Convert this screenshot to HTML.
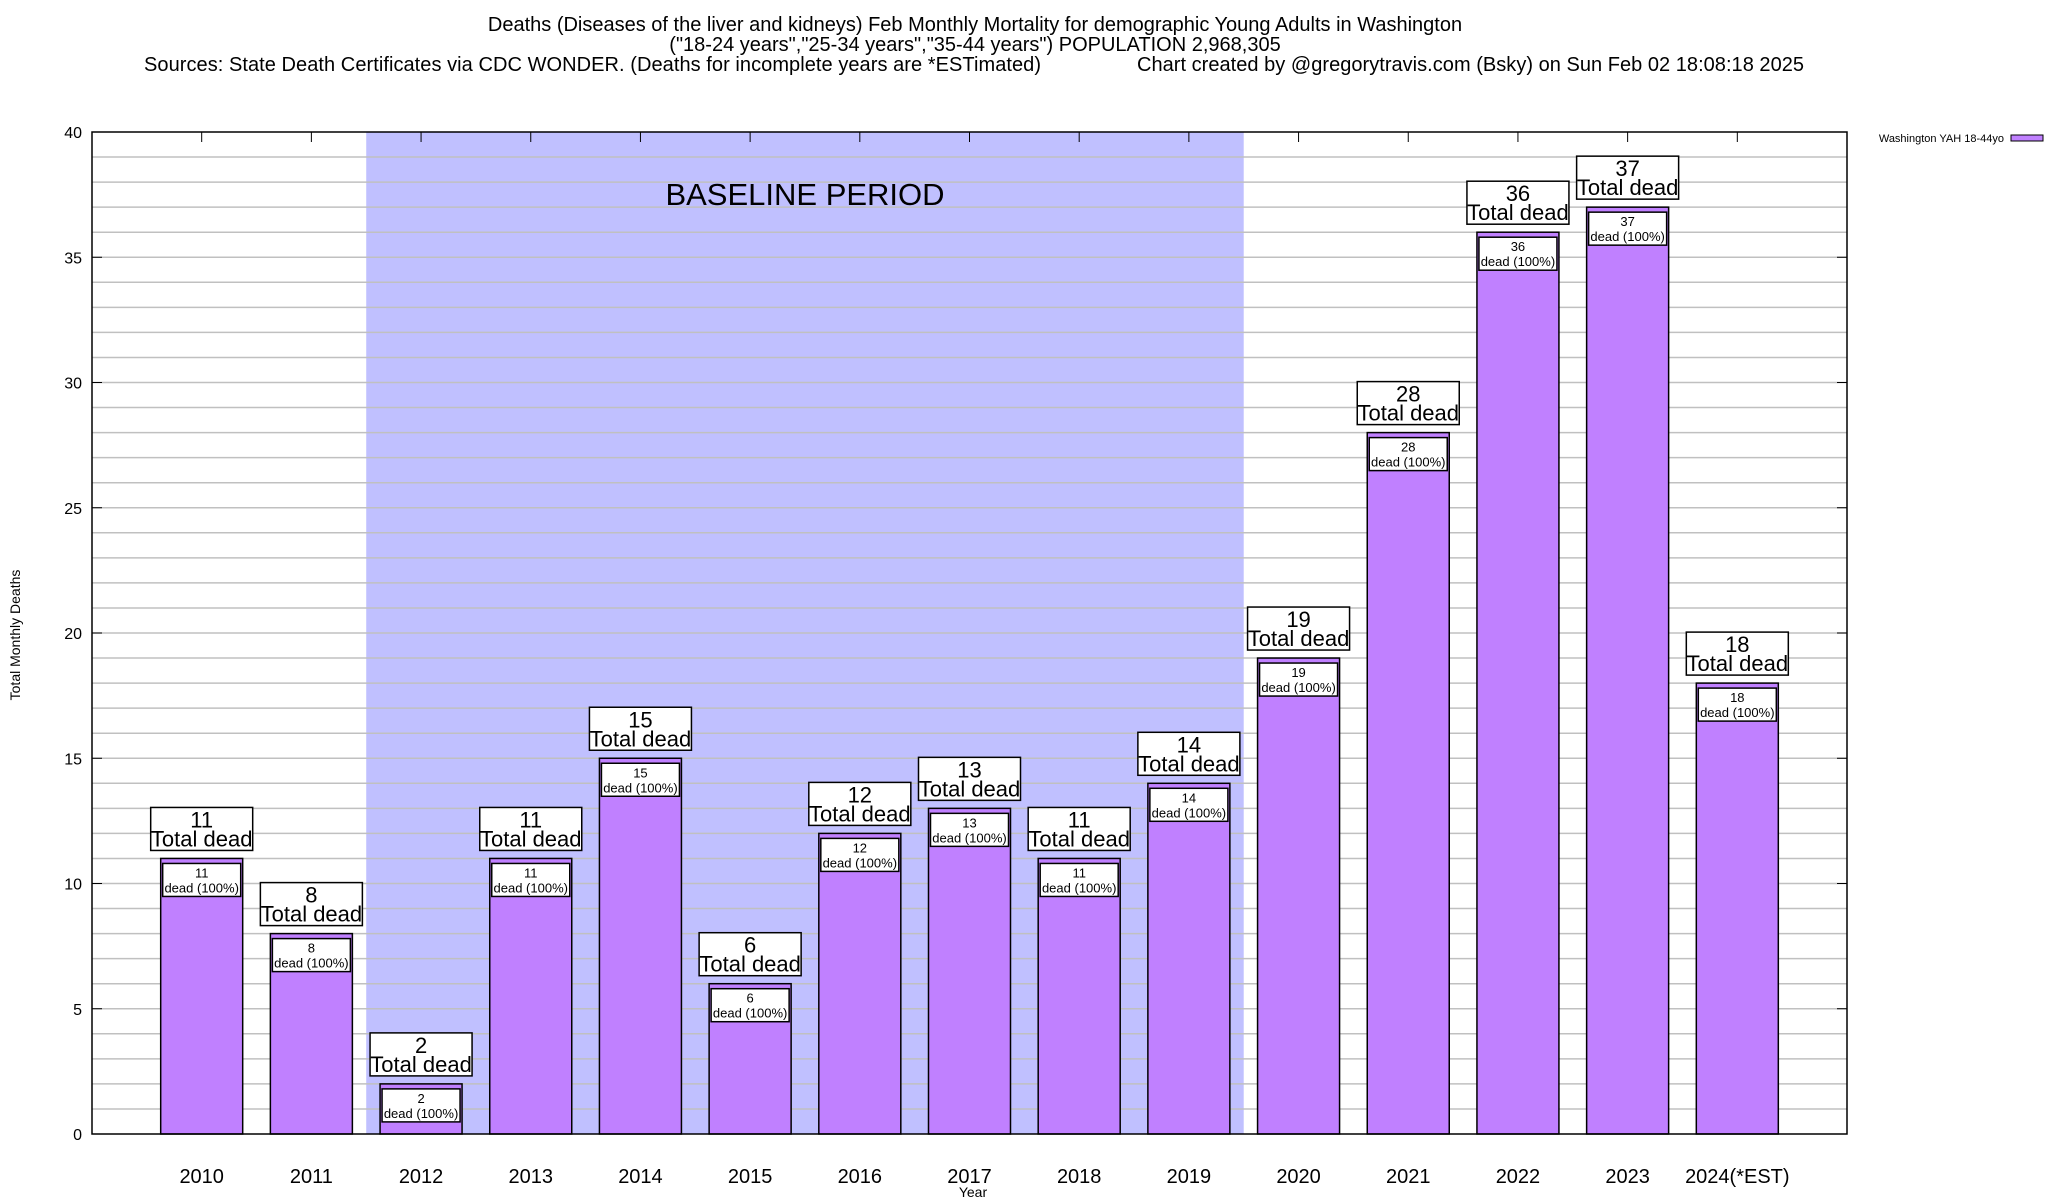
<!DOCTYPE html>
<html><head><meta charset="utf-8"><style>
html,body{margin:0;padding:0;background:#fff}
svg{display:block;font-family:"Liberation Sans",sans-serif}
</style></head><body>
<svg id="chart" width="2048" height="1200" viewBox="0 0 2048 1200" xmlns="http://www.w3.org/2000/svg">
<g font-size="20" fill="#000">
<text x="975" y="31" text-anchor="middle">Deaths (Diseases of the liver and kidneys) Feb Monthly Mortality for demographic Young Adults in Washington</text>
<text x="975" y="51" text-anchor="middle">("18-24 years","25-34 years","35-44 years") POPULATION 2,968,305</text>
<text x="144" y="71" textLength="897">Sources: State Death Certificates via CDC WONDER. (Deaths for incomplete years are *ESTimated)</text>
<text x="1137" y="71" textLength="667">Chart created by @gregorytravis.com (Bsky) on Sun Feb 02 18:08:18 2025</text>
</g>
<g id="plot"></g>
<text x="20" y="635" font-size="14" text-anchor="middle" transform="rotate(-90 20 635)">Total Monthly Deaths</text>
<text x="973" y="1197" font-size="14" text-anchor="middle">Year</text>
<g>
<text x="2004" y="142" font-size="11" text-anchor="end">Washington YAH 18-44yo</text>
<rect x="2011" y="135" width="32" height="6" fill="#c080ff" stroke="#000" stroke-width="1"/>
</g>
</svg>
<script>
const categories = ["2010","2011","2012","2013","2014","2015","2016","2017","2018","2019","2020","2021","2022","2023","2024(*EST)"];
const deaths = [11,8,2,11,15,6,12,13,11,14,19,28,36,37,18];
const yTicks = [0,5,10,15,20,25,30,35,40];
const baselineRange = [1.5,9.5];

const L=92,R=1847,T=132,B=1134;
const yMax=40;
const xs = i => L + (i+1)*(R-L)/16;
const ys = v => B - v*(B-T)/yMax;
const NS="http://www.w3.org/2000/svg";
const plot=document.getElementById('plot');
function mk(tag,attrs,parent){const e=document.createElementNS(NS,tag);for(const k in attrs)e.setAttribute(k,attrs[k]);(parent||plot).appendChild(e);return e;}

const bg=mk('rect',{x:xs(baselineRange[0]),y:T,width:xs(baselineRange[1])-xs(baselineRange[0]),height:B-T,fill:'#c0c0ff'});



for(let v=1;v<yMax;v++){
  const g=mk('line',{x1:L,x2:R,y1:ys(v),y2:ys(v),stroke:'#c0c0c0','stroke-width':1.5});
  
  
}
const bt=mk('text',{x:805,y:205,'font-size':31,'text-anchor':'middle'});
bt.textContent='BASELINE PERIOD';



yTicks.forEach(v=>{
  const t=mk('text',{x:82,y:ys(v)+6,'font-size':16,'text-anchor':'end'});
  t.textContent=v;
  
  
  mk('line',{x1:L,x2:L+10,y1:ys(v),y2:ys(v),stroke:'#000'});
  mk('line',{x1:R,x2:R-10,y1:ys(v),y2:ys(v),stroke:'#000'});
});

const bw=82;
categories.forEach((c,i)=>{
  const cx=xs(i), v=deaths[i], y=ys(v);
  mk('line',{x1:cx,x2:cx,y1:T,y2:T+10,stroke:'#000'});
  const bar=mk('rect',{x:cx-bw/2,y:y,width:bw,height:B-y,fill:'#c080ff',stroke:'#000','stroke-width':1.5});
  
  
  const ib=mk('rect',{x:cx-bw/2+2,y:y+5,width:bw-4,height:33,fill:'#fff',stroke:'#000','stroke-width':1.5});
  
  
  const t1=mk('text',{x:cx,y:y+19,'font-size':13,'text-anchor':'middle'});t1.textContent=v;
  
  
  const t2=mk('text',{x:cx,y:y+34,'font-size':13,'text-anchor':'middle'});t2.textContent='dead (100%)';
  
  
  const ob=mk('rect',{x:cx-51,y:y-51,width:102,height:43,fill:'#fff',stroke:'#000','stroke-width':1.5});
  
  
  const t3=mk('text',{x:cx,y:y-31,'font-size':22,'text-anchor':'middle'});t3.textContent=v;
  
  
  const t4=mk('text',{x:cx,y:y-12,'font-size':22,'text-anchor':'middle'});t4.textContent='Total dead';
  
  
  const xl=mk('text',{x:cx,y:1183,'font-size':20,'text-anchor':'middle'});xl.textContent=c;
  
  
});
const fr=mk('rect',{x:L,y:T,width:R-L,height:B-T,fill:'none',stroke:'#000','stroke-width':1.5});


</script>
</body></html>
